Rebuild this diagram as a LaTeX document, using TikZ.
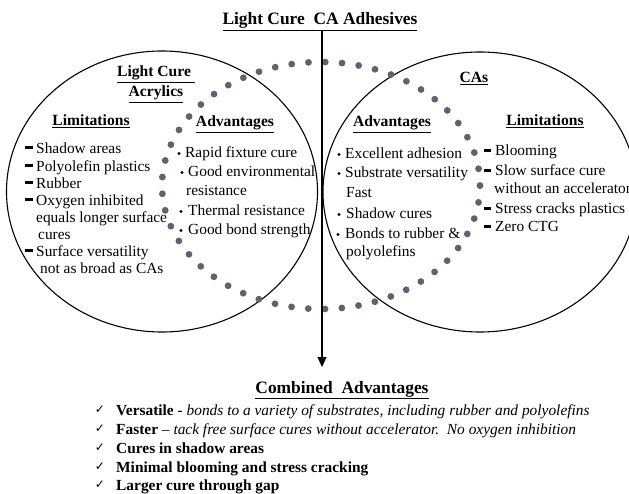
\documentclass[tikz,border=0pt]{standalone}
\usepackage{fontspec}
\setmainfont{Liberation Serif}
\newfontfamily\symfont{DejaVu Sans}
\usetikzlibrary{arrows.meta}
\definecolor{dotgray}{HTML}{5B6470}
\begin{document}
\begin{tikzpicture}[x=1pt,y=-1pt,
  txt/.style={anchor=base west, inner sep=0pt, font=\fontsize{15.4}{18}\selectfont},
  head/.style={anchor=base, inner sep=0pt, font=\fontsize{15.6}{18}\selectfont\bfseries},
  bighead/.style={anchor=base, inner sep=0pt, font=\fontsize{17.4}{20}\selectfont\bfseries},
  dashmark/.style={fill=black, inner sep=0pt, minimum width=7.5pt, minimum height=2.8pt},
  bulletmark/.style={circle, fill=black, inner sep=0pt, minimum size=3.2pt},
  checkmark/.style={anchor=base, inner sep=0pt, font=\symfont\fontsize{12}{14}\selectfont},
  setline/.style={line width=1.1pt},
  dotring/.style={dotgray, line width=6.8pt, line cap=round, dash pattern=on 0pt off 16.81pt}
]
\useasboundingbox (0,0) rectangle (629,494);
\clip (0,0) rectangle (629,494);

% sets
\draw[setline] (162,191.5) ellipse [x radius=155.5pt, y radius=140.5pt];
\draw[setline] (480,192) ellipse [x radius=157pt, y radius=140pt];
\draw[dotring] (321,185.5) ellipse [x radius=159pt, y radius=123.5pt];

% title and arrow
\node[bighead] (title) at (320,25) {\underline{Light Cure\ \ CA Adhesives}};
\coordinate (arrtop) at (322,30);
\coordinate (arrtip) at (322,367);
\draw[line width=1.2pt, -{Triangle[width=9pt,length=10pt]}] (arrtop) -- (arrtip);

% left set
\node[head] (lcure) at (156,77) {\underline{Light Cure\ }};
\node[head] (lacr) at (156,97) {\underline{Acrylics}};
\node[head] (llim) at (91,126) {\underline{Limitations}};
\node[head] (ladv) at (235,127) {\underline{Advantages}};

\node[dashmark] (ld1) at (29,147.5) {};
\node[txt] (l1) at (36,154) {Shadow areas};
\node[dashmark] (ld2) at (29,165.5) {};
\node[txt] (l2) at (36,172) {Polyolefin plastics};
\node[dashmark] (ld3) at (29,182.5) {};
\node[txt] (l3) at (36,189) {Rubber};
\node[dashmark] (ld4) at (29,199.5) {};
\node[txt] (l4) at (36,206) {Oxygen inhibited};
\node[txt] (l5) at (36,223) {equals longer surface};
\node[txt] (l6) at (38,240) {cures};
\node[dashmark] (ld5) at (29,250.5) {};
\node[txt] (l7) at (36,257) {Surface versatility};
\node[txt] (l8) at (40,274) {not as broad as CAs};

\node[bulletmark] (lb1) at (179,153.5) {};
\node[txt] (a1) at (185,158) {Rapid fixture cure};
\node[bulletmark] (lb2) at (182,172.5) {};
\node[txt] (a2) at (188,177) {Good environmental};
\node[txt] (a3) at (186,196) {resistance};
\node[bulletmark] (lb3) at (181,211.5) {};
\node[txt] (a4) at (188,216) {Thermal resistance};
\node[bulletmark] (lb4) at (181,230.5) {};
\node[txt] (a5) at (188,235) {Good bond strength};

% right set
\node[head] (rcas) at (474,83) {\underline{CAs}};
\node[head] (radv) at (392,127) {\underline{Advantages}};
\node[head] (rlim) at (545,126) {\underline{Limitations}};

\node[bulletmark] (rb1) at (339,154.5) {};
\node[txt] (r1) at (345,159) {Excellent adhesion};
\node[bulletmark] (rb2) at (339,173.5) {};
\node[txt] (r2) at (345,178) {Substrate versatility};
\node[txt] (r3) at (346,198) {Fast};
\node[bulletmark] (rb3) at (339,214.5) {};
\node[txt] (r4) at (346,219) {Shadow cures};
\node[bulletmark] (rb4) at (338,234.5) {};
\node[txt] (r5) at (345,239) {Bonds to rubber \&};
\node[txt] (r6) at (346,257) {polyolefins};

\node[dashmark] (rd1) at (487.5,150.5) {};
\node[txt] (m1) at (495,156) {Blooming};
\node[dashmark] (rd2) at (487.5,170.5) {};
\node[txt] (m2) at (495,176) {Slow surface cure};
\node[txt] (m3) at (494,194) {without an accelerator};
\node[dashmark] (rd3) at (487.5,208.5) {};
\node[txt] (m4) at (495,214) {Stress cracks plastics};
\node[dashmark] (rd4) at (487.5,226.5) {};
\node[txt] (m5) at (495,232) {Zero CTG};

% combined
\node[bighead] (comb) at (342,393) {\underline{Combined\ \ Advantages}};
\node[checkmark] (c1) at (100,413) {✓};
\node[txt] (b1) at (116,415) {\textbf{Versatile} - \textit{bonds to a variety of substrates, including rubber and polyolefins}};
\node[checkmark] (c2) at (100,432) {✓};
\node[txt] (b2) at (116,434) {\textbf{Faster} -- \textit{tack free surface cures without accelerator.\ \ No oxygen inhibition}};
\node[checkmark] (c3) at (100,451) {✓};
\node[txt] (b3) at (116,453) {\textbf{Cures in shadow areas}};
\node[checkmark] (c4) at (100,470) {✓};
\node[txt] (b4) at (116,472) {\textbf{Minimal blooming and stress cracking}};
\node[checkmark] (c5) at (100,488) {✓};
\node[txt] (b5) at (116,490) {\textbf{Larger cure through gap}};
\end{tikzpicture}
\end{document}
